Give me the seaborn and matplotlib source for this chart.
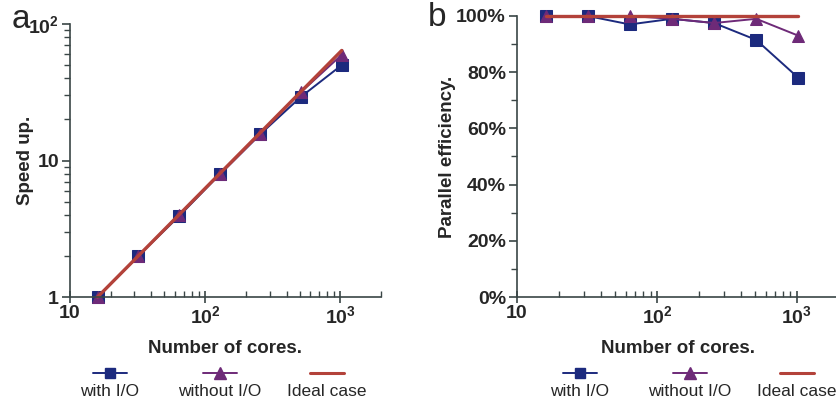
# %%
import matplotlib
matplotlib.use("Agg")
import matplotlib.pyplot as plt
import matplotlib.ticker as mticker
from matplotlib.lines import Line2D
import seaborn as sns
import pandas as pd

# %%
cores = [16, 32, 64, 128, 256, 512, 1024]
speedup_io = [1, 2, 3.9, 7.9, 15.6, 29.3, 50]
speedup_noio = [1, 2, 4, 7.9, 15.6, 31.7, 59.5]
speedup_ideal = [1, 2, 4, 8, 16, 32, 64]
eff_io = [100, 100, 97, 99, 97.5, 91.5, 78]
eff_noio = [100, 100, 100, 99, 97.5, 99, 93]
eff_ideal = [100, 100, 100, 100, 100, 100, 100]
series_names = ["with I/O", "without I/O", "Ideal case"]

speed_df = pd.DataFrame({"cores": cores, "with I/O": speedup_io,
                         "without I/O": speedup_noio, "Ideal case": speedup_ideal})
eff_df = pd.DataFrame({"cores": cores, "with I/O": eff_io,
                       "without I/O": eff_noio, "Ideal case": eff_ideal})

# %%
sns.set_style("white")
plt.rcParams["font.family"] = ["Liberation Sans", "DejaVu Sans"]
plt.rcParams["mathtext.fontset"] = "custom"
plt.rcParams["mathtext.rm"] = "Liberation Sans"
plt.rcParams["mathtext.bf"] = "Liberation Sans:bold"

blue = "#1c2a7e"
purple = "#6e2a78"
red = "#b3423a"
axcol = "#3a4646"
styles = {
  "with I/O": dict(color=blue, marker="s", markersize=8, linewidth=1.4),
  "without I/O": dict(color=purple, marker="^", markersize=9, linewidth=1.4),
  "Ideal case": dict(color=red, marker=None, linewidth=2.4),
}

fig = plt.figure(figsize=(8.37, 4.05), dpi=100)
ax1 = fig.add_axes([70 / 837, 1 - 297 / 405, 311 / 837, 273 / 405])
ax2 = fig.add_axes([517 / 837, 1 - 297 / 405, 322 / 837, 281 / 405])

for ax, df in [(ax1, speed_df), (ax2, eff_df)]:
  for name in series_names:
    st = styles[name]
    sns.lineplot(
      data=df, x="cores", y=name, ax=ax,
      color=st["color"], marker=st["marker"],
      markersize=st.get("markersize", 0), linewidth=st["linewidth"],
      markeredgecolor=st["color"], clip_on=False,
    )
  ax.set_xscale("log")
  ax.set_xlim(10, 2000)
  ax.xaxis.set_major_locator(mticker.FixedLocator([10, 100, 1000]))
  ax.xaxis.set_major_formatter(mticker.FixedFormatter(
    ["10", r"$\mathbf{10^2}$", r"$\mathbf{10^3}$"]))
  ax.xaxis.set_minor_locator(mticker.LogLocator(base=10, subs=range(2, 10)))
  ax.xaxis.set_minor_formatter(mticker.NullFormatter())
  ax.set_xlabel("Number of cores.", fontsize=13.5, fontweight="bold", labelpad=9)
  for side in ["top", "right"]:
    ax.spines[side].set_visible(False)
  for side in ["left", "bottom"]:
    ax.spines[side].set_color(axcol)
    ax.spines[side].set_linewidth(1.2)
  ax.tick_params(axis="x", which="major", direction="inout", length=8, width=1.2,
                 color=axcol, labelsize=14, pad=2, bottom=True)
  ax.tick_params(axis="x", which="minor", direction="in", length=4, width=1.0,
                 color=axcol, bottom=True)
  ax.tick_params(axis="y", which="major", direction="out", length=6, width=1.2,
                 color=axcol, labelsize=14, pad=2, left=True)
  ax.tick_params(axis="y", which="minor", direction="out", length=4, width=1.0,
                 color=axcol, left=True)
  for lab in ax.get_xticklabels() + ax.get_yticklabels():
    lab.set_fontweight("bold")

ax1.set_yscale("log")
ax1.set_ylim(1, 100)
ax1.yaxis.set_major_locator(mticker.FixedLocator([1, 10, 100]))
ax1.yaxis.set_major_formatter(mticker.FixedFormatter(["1", "10", r"$\mathbf{10^2}$"]))
ax1.yaxis.set_minor_locator(mticker.LogLocator(base=10, subs=range(2, 10)))
ax1.yaxis.set_minor_formatter(mticker.NullFormatter())
ax1.set_ylabel("Speed up.", fontsize=13.5, fontweight="bold")
ax1.yaxis.set_label_coords(-36 / 311, 0.5)

ax2.set_ylim(0, 100)
ax2.yaxis.set_major_locator(mticker.MultipleLocator(20))
ax2.yaxis.set_minor_locator(mticker.MultipleLocator(10))
ax2.yaxis.set_major_formatter(mticker.FuncFormatter(lambda v, p: f"{v:.0f}%"))
ax2.set_ylabel("Parallel efficiency.", fontsize=13.5, fontweight="bold")
ax2.yaxis.set_label_coords(-61 / 322, 0.5)

fig.text(21 / 837, 1 - 20 / 405, "a", fontsize=24, ha="center", va="center")
fig.text(437 / 837, 1 - 18 / 405, "b", fontsize=24, ha="center", va="center")

# legends: handle above label
leg_x = {ax1: [110, 220, 327], ax2: [580, 690, 797]}
for ax in [ax1, ax2]:
  for name, cx in zip(series_names, leg_x[ax]):
    st = styles[name]
    y = 1 - 373 / 405
    line = Line2D([(cx - 17) / 837, (cx + 17) / 837], [y, y],
                  transform=fig.transFigure, color=st["color"],
                  linewidth=1.4 if st["marker"] else 2.2)
    fig.add_artist(line)
    if st["marker"]:
      mk = Line2D([cx / 837], [y], transform=fig.transFigure, color=st["color"],
                  marker=st["marker"], markersize=st["markersize"] - 1,
                  linestyle="none")
      fig.add_artist(mk)
    fig.text(cx / 837, 1 - 392 / 405, name, fontsize=12.5, ha="center", va="center")

plt.savefig("out.png", dpi=100)
# %%
